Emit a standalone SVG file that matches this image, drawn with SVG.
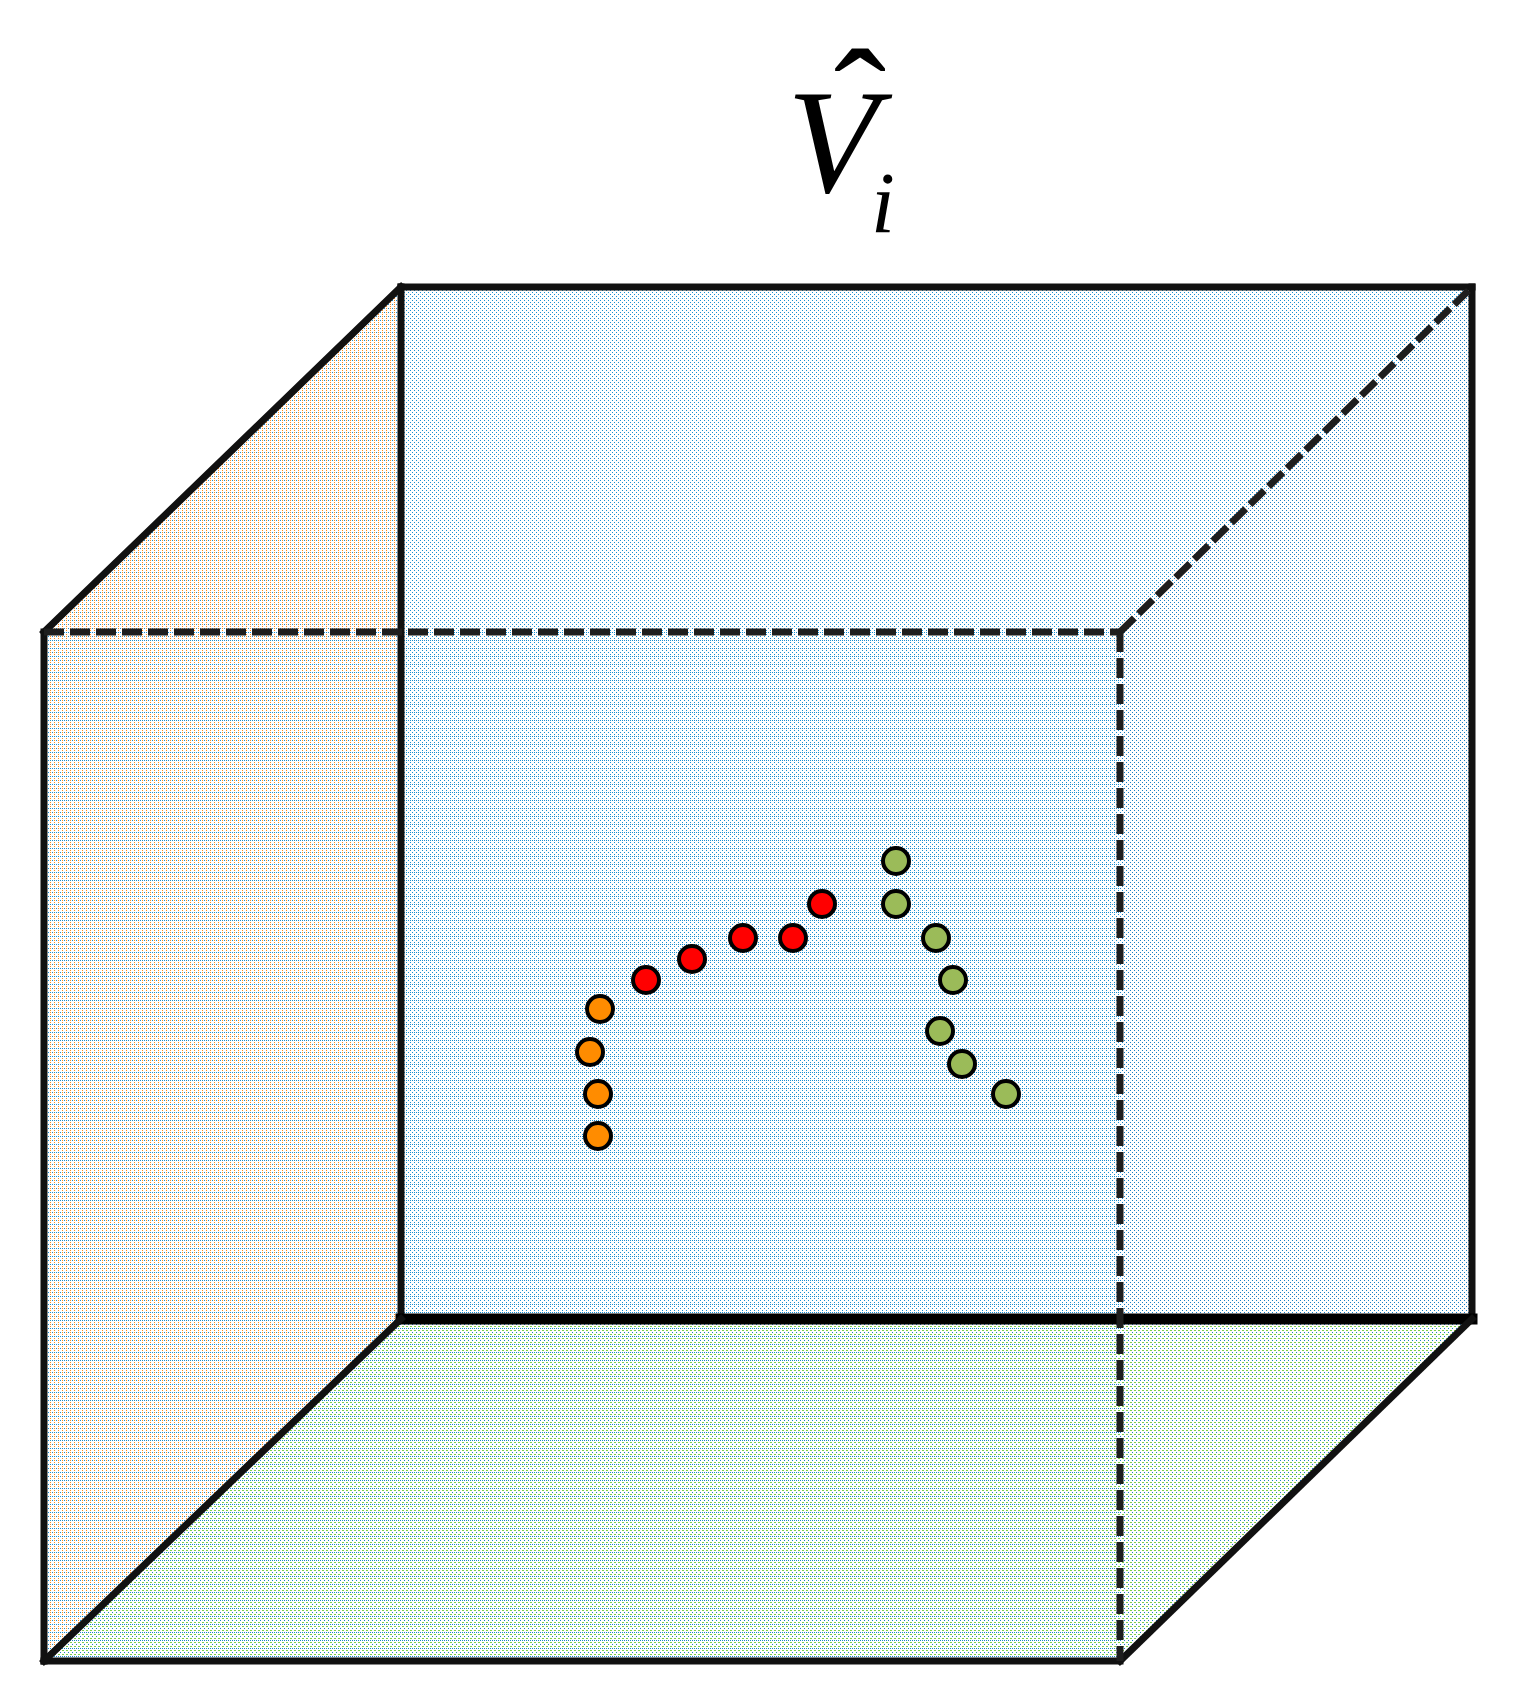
<svg xmlns="http://www.w3.org/2000/svg" width="1532" height="1698" viewBox="0 0 1532 1698">
  <defs>
    <pattern id="pBack" patternUnits="userSpaceOnUse" x="0" y="0" width="4" height="4">
      <rect width="4" height="4" fill="#ffffff"/>
      <rect x="0" y="0" width="1" height="1" fill="#1a8fd0"/>
      <rect x="2" y="2" width="1" height="1" fill="#1a8fd0"/>
    </pattern>
    <pattern id="pLeft" patternUnits="userSpaceOnUse" x="0" y="0" width="4" height="4">
      <rect width="4" height="4" fill="#ffffff"/>
      <rect x="0" y="0" width="1" height="1" fill="#1a8fd0"/>
      <rect x="2" y="2" width="1" height="1" fill="#ff8c1a"/>
      <rect x="2" y="0" width="1" height="1" fill="#ff8c1a"/>
    </pattern>
    <pattern id="pBottom" patternUnits="userSpaceOnUse" x="0" y="0" width="4" height="4">
      <rect width="4" height="4" fill="#ffffff"/>
      <rect x="0" y="0" width="1" height="1" fill="#1a7fc0"/>
      <rect x="2" y="2" width="2" height="1" fill="#7fd04a"/>
    </pattern>
    <pattern id="pRight" patternUnits="userSpaceOnUse" x="0" y="0" width="4" height="4">
      <rect width="4" height="4" fill="#ffffff"/>
      <rect x="0" y="0" width="1" height="1" fill="#1a80c4"/>
      <rect x="2" y="2" width="1" height="1" fill="#1a80c4"/>
    </pattern>
    <pattern id="pFront" patternUnits="userSpaceOnUse" x="0" y="0" width="4" height="8">
      <rect x="2" y="0" width="1" height="1" fill="#1a8fd0"/>
    </pattern>
  </defs>
  <style>
    .edge { fill: none; stroke: #111111; stroke-width: 7; stroke-linecap: square; }
    .dash { fill: none; stroke: #1e1e1e; stroke-width: 7; stroke-dasharray: 20 6; }
    .pt { stroke: #000000; stroke-width: 4; }
    .red { fill: #ff0000; }
    .orange { fill: #ff8c00; }
    .green { fill: #9bbb59; }
    .title { font-family: "Liberation Serif", "Times New Roman", serif; fill: #000000; }
  </style>

  <g id="title">
    <text class="title" x="0" y="0" font-size="150" text-anchor="middle" transform="translate(860,153) scale(1.05,1)">ˆ</text>
    <text class="title" x="787" y="192" font-size="149" font-style="italic">V</text>
    <text class="title" x="871" y="232" font-size="86" font-style="italic">i</text>
  </g>

  <g id="faces">
    <rect id="face-back" x="401" y="287" width="1071" height="1032" fill="url(#pBack)"/>
    <polygon id="face-left" points="44,632 401,287 401,1319 44,1661" fill="url(#pLeft)"/>
    <polygon id="face-right" points="1120,632 1472,287 1472,1319 1120,1661" fill="url(#pRight)"/>
    <polygon id="face-bottom" points="44,1661 401,1319 1472,1319 1120,1661" fill="url(#pBottom)"/>
    <rect id="face-front" x="44" y="632" width="1076" height="1029" fill="url(#pFront)"/>
  </g>

  <g id="edges">
    <line class="edge" x1="401" y1="287" x2="1472" y2="287"/>
    <line class="edge" x1="401" y1="287" x2="401" y2="1319"/>
    <line class="edge" x1="1472" y1="287" x2="1472" y2="1319"/>
    <line class="edge" x1="401" y1="1319" x2="1472" y2="1319" style="stroke-width:11;stroke:#000"/>
    <line class="edge" x1="44" y1="632" x2="44" y2="1661"/>
    <line class="edge" x1="44" y1="1661" x2="1120" y2="1661"/>
    <line class="edge" x1="44" y1="632" x2="401" y2="287"/>
    <line class="edge" x1="44" y1="1661" x2="401" y2="1319"/>
    <line class="edge" x1="1120" y1="1661" x2="1472" y2="1319"/>
    <line class="dash" x1="44" y1="632" x2="1120" y2="632"/>
    <line class="dash" x1="1120" y1="632" x2="1120" y2="1661"/>
    <line class="dash" x1="1120" y1="632" x2="1472" y2="287"/>
  </g>

  <g id="points">
    <circle id="o1" class="pt orange" cx="600" cy="1009" r="13"/>
    <circle id="o2" class="pt orange" cx="590" cy="1052" r="13"/>
    <circle id="o3" class="pt orange" cx="598" cy="1094" r="13"/>
    <circle id="o4" class="pt orange" cx="598" cy="1136" r="13"/>
    <circle id="r1" class="pt red" cx="646" cy="980" r="13"/>
    <circle id="r2" class="pt red" cx="692" cy="959" r="13"/>
    <circle id="r3" class="pt red" cx="743" cy="938" r="13"/>
    <circle id="r4" class="pt red" cx="793" cy="938" r="13"/>
    <circle id="r5" class="pt red" cx="822" cy="904" r="13"/>
    <circle id="g1" class="pt green" cx="896" cy="861" r="13"/>
    <circle id="g2" class="pt green" cx="896" cy="904" r="13"/>
    <circle id="g3" class="pt green" cx="936" cy="938" r="13"/>
    <circle id="g4" class="pt green" cx="953" cy="980" r="13"/>
    <circle id="g5" class="pt green" cx="940" cy="1031" r="13"/>
    <circle id="g6" class="pt green" cx="962" cy="1064" r="13"/>
    <circle id="g7" class="pt green" cx="1006" cy="1094" r="13"/>
  </g>
</svg>
